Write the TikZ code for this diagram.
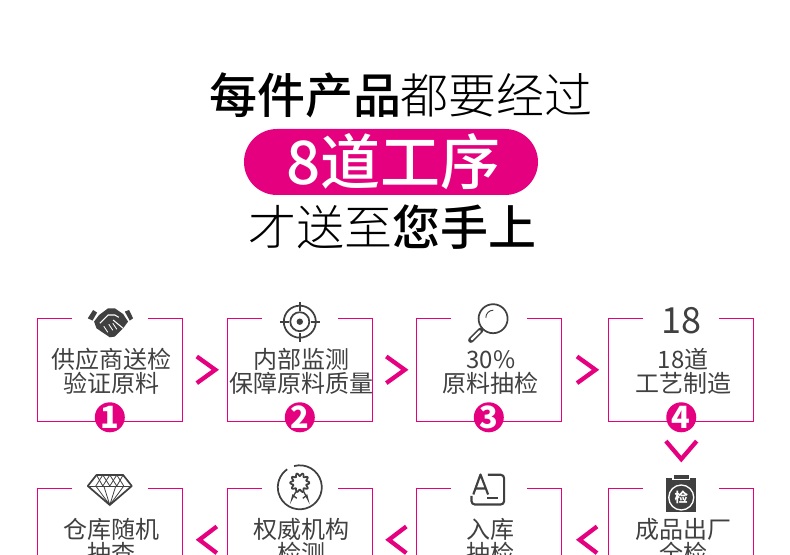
\documentclass[tikz,border=0pt]{standalone}
\usepackage{fontspec}
\setmainfont{Noto Sans CJK SC}
\newfontfamily\lightcn{Noto Sans CJK SC Light}
\newfontfamily\mediumcn{Noto Sans CJK SC Medium}
\usepackage{xcolor}
\usetikzlibrary{positioning,calc}
\definecolor{brand}{HTML}{E4007F}
\definecolor{ink}{HTML}{404040}
\newcommand{\steplines}[2]{\makebox[0pt]{\hspace{3pt}\rule{0pt}{17.5pt}#1}\\\makebox[0pt]{\hspace{3pt}#2}}

\tikzset{
  chevr/.pic={\draw[chevline] (-8,-13.3) -- (10.5,0) -- (-8,13.3);},
  chevl/.pic={\draw[chevline] (12,-13.3) -- (-5.5,0) -- (12,13.3);},
  chevd/.pic={\draw[chevline] (-15.4,-9) -- (0,9) -- (15.4,-9);},
  handshake/.pic={
    \fill[ink] (-22,-5) -- (-16.7,-13.3) -- (-12.7,-10.7) -- (-17.3,-2.7) -- cycle;
    \fill[ink] (15,-11.7) -- (19.3,-13.3) -- (23.3,-5) -- (20,-2.7) -- cycle;
    \fill[ink] (-10.7,-8.3) -- (-1.7,-15) -- (5,-15) -- (13.3,-9.3) -- (18.3,-1.7) -- (13.3,5) -- (5,13.3) -- (0,14) -- (-13.3,5) -- (-15.7,-1.7) -- cycle;
    \draw[white, line width=.8pt] (-10,0) -- (-1.7,-8.3) -- (5,-8.3) -- (9,-6);
    \draw[white, line width=.8pt] (3.3,-3.3) -- (13.3,5);
    \draw[white, line width=.6pt] (-6,3) -- (-2,9) (-1,1) -- (3,7) (3,0) -- (7,6);
  },
  target/.pic={
    \draw[icon] (0,0) circle (16);
    \draw[icon] (0,0) circle (9.5);
    \fill[ink] (0,0) circle (3.2);
    \draw[icon] (-20,0) -- (-11,0) (11,0) -- (20,0) (0,-20) -- (0,-11) (0,11) -- (0,20);
  },
  lens/.pic={
    \draw[icon] (4.3,-3) circle (14.5);
    \draw[ink, line width=4pt, line cap=round] (-8,8.5) -- (-18,18.5);
    \draw[white, line width=1.8pt, line cap=round] (-9,9.5) -- (-17,17.5);
    \draw[icon, line width=.7pt] (-3,-4) arc (180:270:7.5);
  },
  gem/.pic={
    \draw[icon, line join=round] (-13.3,-15) -- (13.3,-15) -- (22,-4) -- (0,15) -- (-22,-4) -- cycle;
    \draw[ink, line width=.6pt] (-22,-4) -- (22,-4);
    \draw[ink, line width=.6pt] (-13.3,-15) -- (-7,-4) -- (0,-15) -- (7,-4) -- (13.3,-15);
    \draw[ink, line width=.6pt] (-7,-15) -- (-14,-4) (-7,-15) -- (0,-4) -- (7,-15) -- (14,-4);
    \draw[ink, line width=.6pt] (-14,-4) -- (0,15) -- (14,-4) (-6,-4) -- (0,15) -- (6,-4);
  },
  rosette/.pic={
    \draw[icon] (-105:22) arc[start angle=-105, end angle=235, radius=22];
    \draw[icon, line join=round, shift={(0,-4.5)}] plot[domain=0:360, samples=81] (\x:{8.2+1.5*cos(10*\x)});
    \draw[icon, line width=1pt] (-4,4.5) -- (-8,12) -- (-7,8) -- (-3,11);
    \draw[icon, line width=1pt] (4,4.5) -- (8,12) -- (7,8) -- (3,11);
  },
  tagbox/.pic={
    \draw[icon, line width=1.6pt, rounded corners=2.5pt] (-1,-14.7) -- (15.3,-14.7) -- (15.3,15) -- (-17.3,15) -- (-17.3,6.5);
    \draw[icon, line width=1.6pt, line join=round] (-15.5,5) -- (-8.3,-15) -- (-.7,5) (-13,-1) -- (-3,-1);
    \draw[ink, line width=1.8pt] (-1.7,8.5) -- (9.3,8.5);
  },
  clipboard/.pic={
    \fill[ink] (-15,-17) rectangle (15,17);
    \fill[white] (-9,-20) rectangle (9,-14.5);
    \fill[ink] (-7.5,-20) rectangle (7.5,-16);
    \draw[white, line width=1pt] (0,2.5) circle (12.5);
    \node[font=\bfseries\fontsize{10}{10}\selectfont, text=white, inner sep=0pt] (mark) at (0,2.5) {检};
  }
}

\begin{document}
\begin{tikzpicture}[
  x=0.75pt, y=-0.75pt,
  icon/.style={draw=ink, line width=1.3pt},
  chevline/.style={draw=brand, line width=3.2pt, miter limit=10},
  step box/.style={draw=brand, line width=.75pt, outer sep=0pt, align=center, text=ink,
    minimum width=108.75pt, minimum height=77.25pt, inner sep=0pt,
    font=\fontsize{18}{18}\selectfont},
  gap/.style={fill=white, minimum width=57pt, minimum height=4pt, inner sep=0pt},
  badge/.style={circle, fill=brand, text=white, minimum size=22.5pt, inner sep=0pt,
    font=\bfseries\fontsize{23}{23}\selectfont},
  headline/.style={inner sep=0pt, font=\fontsize{36}{36}\selectfont},
  pill/.style={fill=brand, text=white, rounded corners=24.75pt, minimum width=220.5pt,
    minimum height=49.5pt, inner sep=0pt, font=\mediumcn\fontsize{45}{45}\selectfont}
]
\clip[use as bounding box] (0,0) rectangle (790,555);

\node[headline] (top) at (401,95) {{\mediumcn 每件产品}{\lightcn 都要经过}};
\node[pill] (count) at (391,162) {\hspace{4pt}8道工序};
\node[headline] (end) at (392,227) {{\lightcn 才送至}{\mediumcn 您手上}};

\node[step box] (b1) at (109.8,369.8) {\steplines{供应商送检}{验证原料}};
\node[step box, right=33.75pt of b1] (b2) {\steplines{内部监测}{保障原料质量}};
\node[step box, right=33pt of b2] (b3) {\steplines{30\%}{原料抽检}};
\node[step box, right=35.6pt of b3] (b4) {\steplines{18道}{工艺制造}};
\node[step box, below=50.25pt of b4] (b5) {\steplines{成品出厂}{全检}};
\node[step box, left=35.6pt of b5] (b6) {\steplines{入库}{抽检}};
\node[step box, left=33pt of b6] (b7) {\steplines{权威机构}{检测}};
\node[step box, left=33.75pt of b7] (b8) {\steplines{仓库随机}{抽查}};

\foreach \x in {b1,b2,b3,b4,b5,b6,b7,b8} \node[gap] (gap\x) at (\x.north) {};
\foreach \x/\n in {b1/1,b2/2,b3/3,b4/4} \node[badge] (c\n) at ($(\x.south)+(0,-4)$) {\n};

\path ($(b1.north)+(0,5)$) pic {handshake};
\path ($(b2.north)+(0,3.4)$) pic {target};
\path ($(b3.north)+(0,3.4)$) pic {lens};
\node[text=ink, inner sep=0pt, font=\fontsize{27}{27}\selectfont] (eighteen) at ($(b4.north)+(0,2)$) {18};
\path ($(b5.north)+(0,6.7)$) pic {clipboard};
\path ($(b6.north)+(0,1.2)$) pic {tagbox};
\path ($(b7.north)+(0,-1)$) pic {rosette};
\path ($(b8.north)+(0,1.7)$) pic {gem};

\path ($(b1.east)!.5!(b2.west)$) pic {chevr};
\path ($(b2.east)!.5!(b3.west)$) pic {chevr};
\path ($(b3.east)!.5!(b4.west)$) pic {chevr};
\path ($(b4.south)!.43!(b5.north)$) pic {chevd};
\path ($(b6.west)!.5!(b5.east)$) pic {chevl};
\path ($(b7.west)!.5!(b6.east)$) pic {chevl};
\path ($(b8.west)!.5!(b7.east)$) pic {chevl};
\end{tikzpicture}
\end{document}
